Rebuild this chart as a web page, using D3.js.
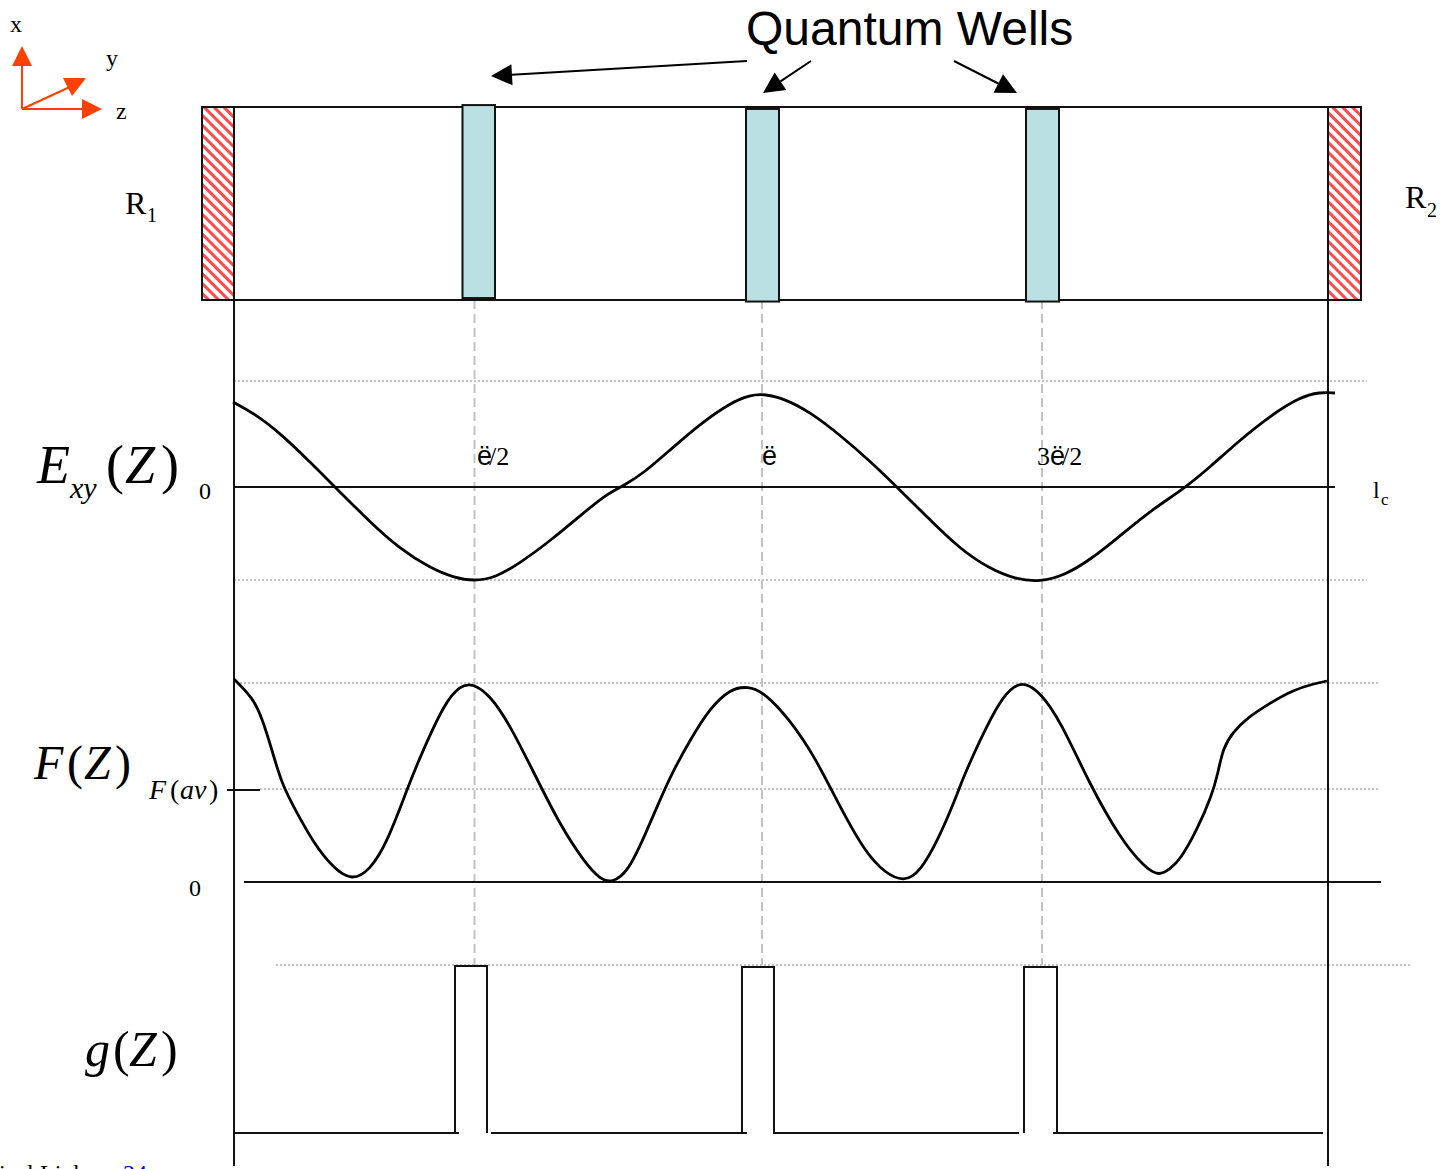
<!DOCTYPE html>
<html>
<head>
<meta charset="utf-8">
<title>Quantum Wells</title>
<script src="https://d3js.org/d3.v7.min.js"></script>
<style>
  html, body { margin: 0; padding: 0; background: #fff; overflow: hidden; }
  text { font-family: "Liberation Serif", serif; fill: #000; }
  .sans { font-family: "Liberation Sans", sans-serif; }
  .it { font-style: italic; }
  .solid { stroke: #111; stroke-width: 2; fill: none; }
  .curve { stroke: #000; stroke-width: 2.8; fill: none; }
  .dots { stroke: #c4c4c4; stroke-width: 2; stroke-dasharray: 2 2; fill: none; }
  .guide { stroke: #c2c2c2; stroke-width: 2; stroke-dasharray: 9 5; fill: none; }
</style>
</head>
<body>
<svg width="1441" height="1169"></svg>
<script>
// Field curve E(z): position along the cavity, amplitude
const eZ = [-1,21,46,76,104,136,166,196,221,240,261,286,316,346,371,391,411,436,466,496,516,531,551,576,606,636,666,696,726,756,781,806,831,856,886,916,951,976,1006,1036,1066,1086,1101];
const eVal = [85,73,54,25,-3,-35,-62,-81,-91,-94,-91,-76,-54,-29,-8,2,15,37,63,84,92,93,88,75,52,26,-3,-33,-62,-82,-92,-95,-88,-73,-49,-24,-1,20,47,71,90,95,94];

// Intensity curve F(z)
const fZ = [0,19,28,38,48,63,79,99,118,136,153,174,186,211,226,238,256,276,301,326,351,366,378,394,411,426,437,456,476,496,514,531,556,581,606,631,651,670,686,704,721,729,746,766,781,791,806,826,856,886,911,925,936,946,963,978,984,989,999,1013,1036,1059,1079,1093];
const fVal = [203,184,164,132,97,69,40,14,1,12,39,95,125,180,196,199,187,157,107,57,19,3,-1,10,47,82,107,142,174,193,196,189,162,125,75,30,9,0,10,42,82,104,142,182,197,199,190,162,97,44,14,6,13,22,52,87,109,134,150,164,179,192,198,201];

// Gain g(z): pulse edges and tops, then the pieces of baseline
const gLeft = [221,508,790];
const gRight = [253,540,823];
const gTop = [167,166,166];
const baseStart = [0,257,539,819];
const baseEnd = [225,513,785,1089];

// Device: wells and mirrors
const wellLeft = [228.5,512,792];
const wellRight = [261,545,825];
const wellLow = [1,-0.8,-0.8];
const wellHigh = [101,99,99];
const mirrorLeft = [-32,1094];
const mirrorRight = [0,1127];
const guideZ = [240.5,528,808];

const svg = d3.select("svg");

const x = d3.scaleLinear().domain([0, 1094]).range([234, 1328]);
const yBox = d3.scaleLinear().domain([0, 100]).range([300, 107]);
const yE = d3.scaleLinear().domain([-93, 93]).range([580, 394]);
const yF = d3.scaleLinear().domain([0, 199]).range([882, 683]);
const yG = d3.scaleLinear().domain([0, 167]).range([1133, 966]);

// Hatch for the mirrors
const defs = svg.append("defs");
const hatch = defs.append("pattern").attr("id", "hatch")
  .attr("patternUnits", "userSpaceOnUse")
  .attr("width", 7).attr("height", 7)
  .attr("patternTransform", "rotate(45)");
hatch.append("rect").attr("width", 7).attr("height", 7).attr("fill", "#fff");
hatch.append("rect").attr("width", 7).attr("height", 3).attr("fill", "#ff4a4a");

function hline(cls, x1, x2, y) {
  svg.append("line").attr("class", cls).attr("x1", x1).attr("x2", x2).attr("y1", y).attr("y2", y);
}
function vline(cls, xp, y1, y2) {
  svg.append("line").attr("class", cls).attr("x1", xp).attr("x2", xp).attr("y1", y1).attr("y2", y2);
}
function label(str, px, py, size, cls) {
  return svg.append("text").attr("x", px).attr("y", py).attr("font-size", size).attr("class", cls || null).text(str);
}

// Dotted reference levels
hline("dots", x(0), x(1133), yE(106));
hline("dots", x(0), x(1133), yE(-93));
hline("dots", x(6), x(1144), yF(199));
hline("dots", x(26), x(1144), yF(93));
hline("dots", x(42), x(1176), yG(168));

// Dashed guides through the wells
guideZ.forEach(z => vline("guide", x(z), yBox(0), yG(168)));

// Cavity box, mirrors, wells
svg.append("rect").attr("class", "solid")
  .attr("x", x(-32)).attr("y", yBox(100))
  .attr("width", x(1127) - x(-32)).attr("height", yBox(0) - yBox(100));

svg.selectAll(".mirror").data(mirrorLeft).join("rect")
  .attr("class", "mirror")
  .attr("x", d => x(d))
  .attr("y", yBox(100))
  .attr("width", (d, i) => x(mirrorRight[i]) - x(d))
  .attr("height", yBox(0) - yBox(100))
  .attr("fill", "url(#hatch)")
  .attr("stroke", "#111").attr("stroke-width", 2);

svg.selectAll(".well").data(wellLeft).join("rect")
  .attr("class", "well")
  .attr("x", d => x(d))
  .attr("y", (d, i) => yBox(wellHigh[i]))
  .attr("width", (d, i) => x(wellRight[i]) - x(d))
  .attr("height", (d, i) => yBox(wellLow[i]) - yBox(wellHigh[i]))
  .attr("fill", "#bae0e3")
  .attr("stroke", "#111").attr("stroke-width", 2);

// Cavity walls and zero lines
vline("solid", x(0), yBox(0), 1166);
vline("solid", x(1094), yBox(0), 1166);
hline("solid", x(0), x(1101), yE(0));
hline("solid", x(10), x(1147), yF(0));
hline("solid", 227, x(26), yF(92));

// Curves
const line = d3.line().curve(d3.curveBasis);
svg.append("path").attr("class", "curve")
  .attr("d", line(eZ.map((z, i) => [x(z), yE(eVal[i])])));
svg.append("path").attr("class", "curve")
  .attr("d", line(fZ.map((z, i) => [x(z), yF(fVal[i])])));

// Gain pulses
gLeft.forEach((z, i) => {
  svg.append("path").attr("class", "solid")
    .attr("d", d3.line()([[x(z), yG(0)], [x(z), yG(gTop[i])], [x(gRight[i]), yG(gTop[i])], [x(gRight[i]), yG(0)]]));
});
baseStart.forEach((z, i) => hline("solid", x(z), x(baseEnd[i]), yG(0)));

// Arrows pointing at the wells
const arrows = [
  { from: [747, 61], to: [491, 76] },
  { from: [811, 61], to: [763, 93] },
  { from: [954, 61], to: [1017, 93] }
];
function arrow(a, color, len, half, w) {
  const dx = a.to[0] - a.from[0], dy = a.to[1] - a.from[1];
  const d = Math.hypot(dx, dy), ux = dx / d, uy = dy / d;
  const bx = a.to[0] - ux * len, by = a.to[1] - uy * len;
  svg.append("line").attr("x1", a.from[0]).attr("y1", a.from[1]).attr("x2", bx).attr("y2", by)
    .attr("stroke", color).attr("stroke-width", w);
  svg.append("polygon").attr("fill", color)
    .attr("points", [a.to, [bx - uy * half, by + ux * half], [bx + uy * half, by - ux * half]].join(" "));
}
arrows.forEach(a => arrow(a, "#000", 21, 10.5, 2));

// Coordinate axes
const orange = "#ff4000";
arrow({ from: [22, 109], to: [22, 46] }, orange, 20, 10, 2);
arrow({ from: [22, 109], to: [102, 109] }, orange, 20, 10, 2);
svg.append("line").attr("x1", 22).attr("y1", 109).attr("x2", 72).attr("y2", 86)
  .attr("stroke", orange).attr("stroke-width", 2);
svg.append("polygon").attr("fill", orange).attr("points", "63,78 86,78 72,96");

// Text
label("Quantum Wells", 746, 45, 48, "sans");
label("x", 10, 32, 24);
label("y", 106, 66, 24);
label("z", 116, 119, 24);
label("R", 125, 214, 32);
label("1", 147, 222, 20);
label("R", 1405, 208, 32);
label("2", 1427, 217, 20);
label("0", 199, 499, 24);
label("0", 189, 896, 24);
label("l", 1373, 498, 24);
label("c", 1381, 505, 17);

// Wavelength marks, glyphs overlapping as in the scan
function lambda(px, prefix, suffix) {
  const t = svg.append("text").attr("x", px).attr("y", 465).attr("font-size", 26);
  if (prefix) t.append("tspan").text(prefix);
  t.append("tspan").attr("class", "sans").attr("font-size", 27).text("ë");
  if (suffix) t.append("tspan").attr("dx", -3).text(suffix);
}
lambda(477, "", "/2");
lambda(762, "", "");
lambda(1037, "3", "/2");

// Function labels
label("E", 37, 483, 54, "it");
label("xy", 70, 498, 30, "it");
label("(", 106, 483, 54);
label("Z", 125, 483, 54, "it");
label(")", 161, 483, 54);

label("F", 34, 779, 48, "it");
label("(", 67, 779, 48);
label("Z", 84, 779, 48, "it");
label(")", 115, 779, 48);

label("F", 149, 799, 28, "it");
label("(", 170, 799, 28);
label("av", 180, 799, 28, "it");
label(")", 209, 799, 28);

label("g", 85, 1066, 50, "it");
label("(", 113, 1066, 50);
label("Z", 129, 1066, 50, "it");
label(")", 161, 1066, 50);

// Footer cut off by the page edge
label("ical", -1, 1181, 24);
label("Link", 40, 1181, 24);
label("24", 123, 1181, 24).style("fill", "#0000d0");
</script>
</body>
</html>
